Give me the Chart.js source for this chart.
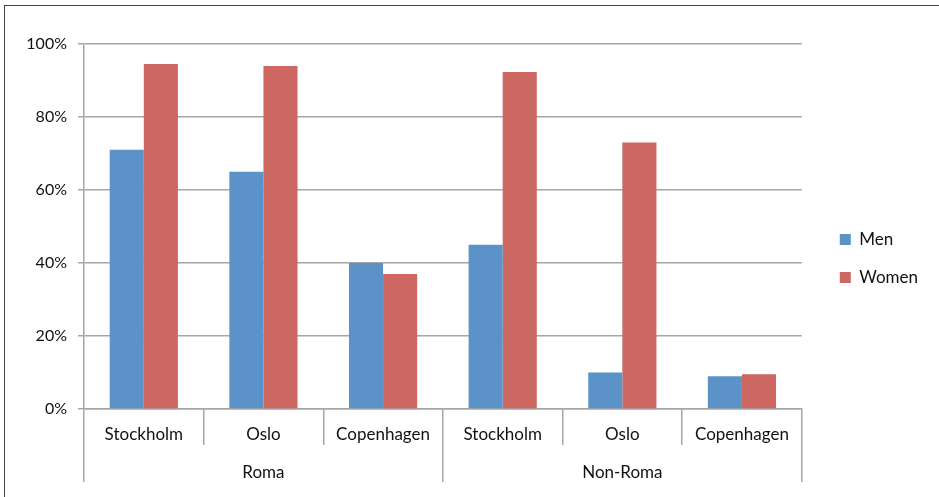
<!DOCTYPE html>
<html>
<head>
<meta charset="utf-8">
<script src="https://cdn.jsdelivr.net/npm/chart.js@4.4.0/dist/chart.umd.min.js"></script>
<style>
  body { margin: 0; background: #fff; }
  #frame { position: absolute; left: 4px; top: 5px; width: 960px; height: 520px; border: 1px solid #444; box-sizing: border-box; }
  #wrap { position: absolute; left: 0; top: 0; width: 939px; height: 497px; }
</style>
</head>
<body>
<div id="frame"></div>
<div id="wrap"><canvas id="myChart" width="939" height="497"></canvas></div>
<script>
// data
var cities = ["Stockholm", "Oslo", "Copenhagen", "Stockholm", "Oslo", "Copenhagen"];
var groups = ["Roma", "Non-Roma"];
var menValues = [71, 65, 40, 45, 10, 9];
var womenValues = [94.5, 94, 37, 92.3, 73, 9.5];
var yTicks = [0, 20, 40, 60, 80, 100];

var gridGrey = "#a6a6a6";
var textFont = "Lato, 'Open Sans', sans-serif";

// nudge the legend a bit right and up, like the original
var legendShift = {
    id: 'legendShift',
    afterLayout: function(chart) {
        var lg = chart.legend;
        if (lg) {
            lg.left += 17;
            lg.right += 17;
            lg.top -= 6;
            lg.bottom -= 6;
        }
    }
};

var ctx = document.getElementById('myChart').getContext('2d');
var myChart = new Chart(ctx, {
    type: 'bar',
    data: {
        labels: cities,
        datasets: [{
            label: 'Men',
            data: menValues,
            backgroundColor: "#5b93c9",
            borderWidth: 0
        }, {
            label: 'Women',
            data: womenValues,
            backgroundColor: "#cc6762",
            borderWidth: 0
        }]
    },
    plugins: [legendShift],
    options: {
        responsive: false,
        animation: false,
        layout: {
            padding: { top: 44, right: 28, bottom: 12, left: 0 }
        },
        datasets: {
            bar: { categoryPercentage: 0.57, barPercentage: 1.0 }
        },
        plugins: {
            legend: {
                display: true,
                position: 'right',
                labels: {
                    boxWidth: 11,
                    boxHeight: 11,
                    padding: 21,
                    color: '#111',
                    font: { family: textFont, size: 17 }
                }
            },
            tooltip: { enabled: false }
        },
        scales: {
            x: {
                position: 'bottom',
                grid: { offset: true, drawOnChartArea: false, tickLength: 36, color: gridGrey, lineWidth: 1.5 },
                border: { display: true, color: gridGrey, width: 1.5 },
                ticks: { padding: -21, color: '#111', font: { family: textFont, size: 17 }, maxRotation: 0 },
                afterFit: function(scale) { scale.height = 36; }
            },
            x2: {
                type: 'category',
                position: 'bottom',
                labels: groups,
                offset: true,
                grid: { offset: true, drawOnChartArea: false, tickLength: 37, color: gridGrey, lineWidth: 1.5 },
                border: { display: false },
                ticks: { padding: -20, color: '#111', font: { family: textFont, size: 17 }, maxRotation: 0 },
                afterFit: function(scale) { scale.height = 40; }
            },
            y: {
                min: 0,
                max: 100,
                afterBuildTicks: function(scale) {
                    scale.ticks = yTicks.map(function(v) { return { value: v }; });
                },
                grid: { color: gridGrey, lineWidth: 1.5, tickLength: 6 },
                border: { display: true, color: gridGrey, width: 1.5 },
                ticks: {
                    padding: 11,
                    color: '#111',
                    font: { family: textFont, size: 16 },
                    callback: function(value) { return value + '%'; }
                },
                afterFit: function(scale) { scale.width = 84; }
            }
        }
    }
});
</script>
</body>
</html>
